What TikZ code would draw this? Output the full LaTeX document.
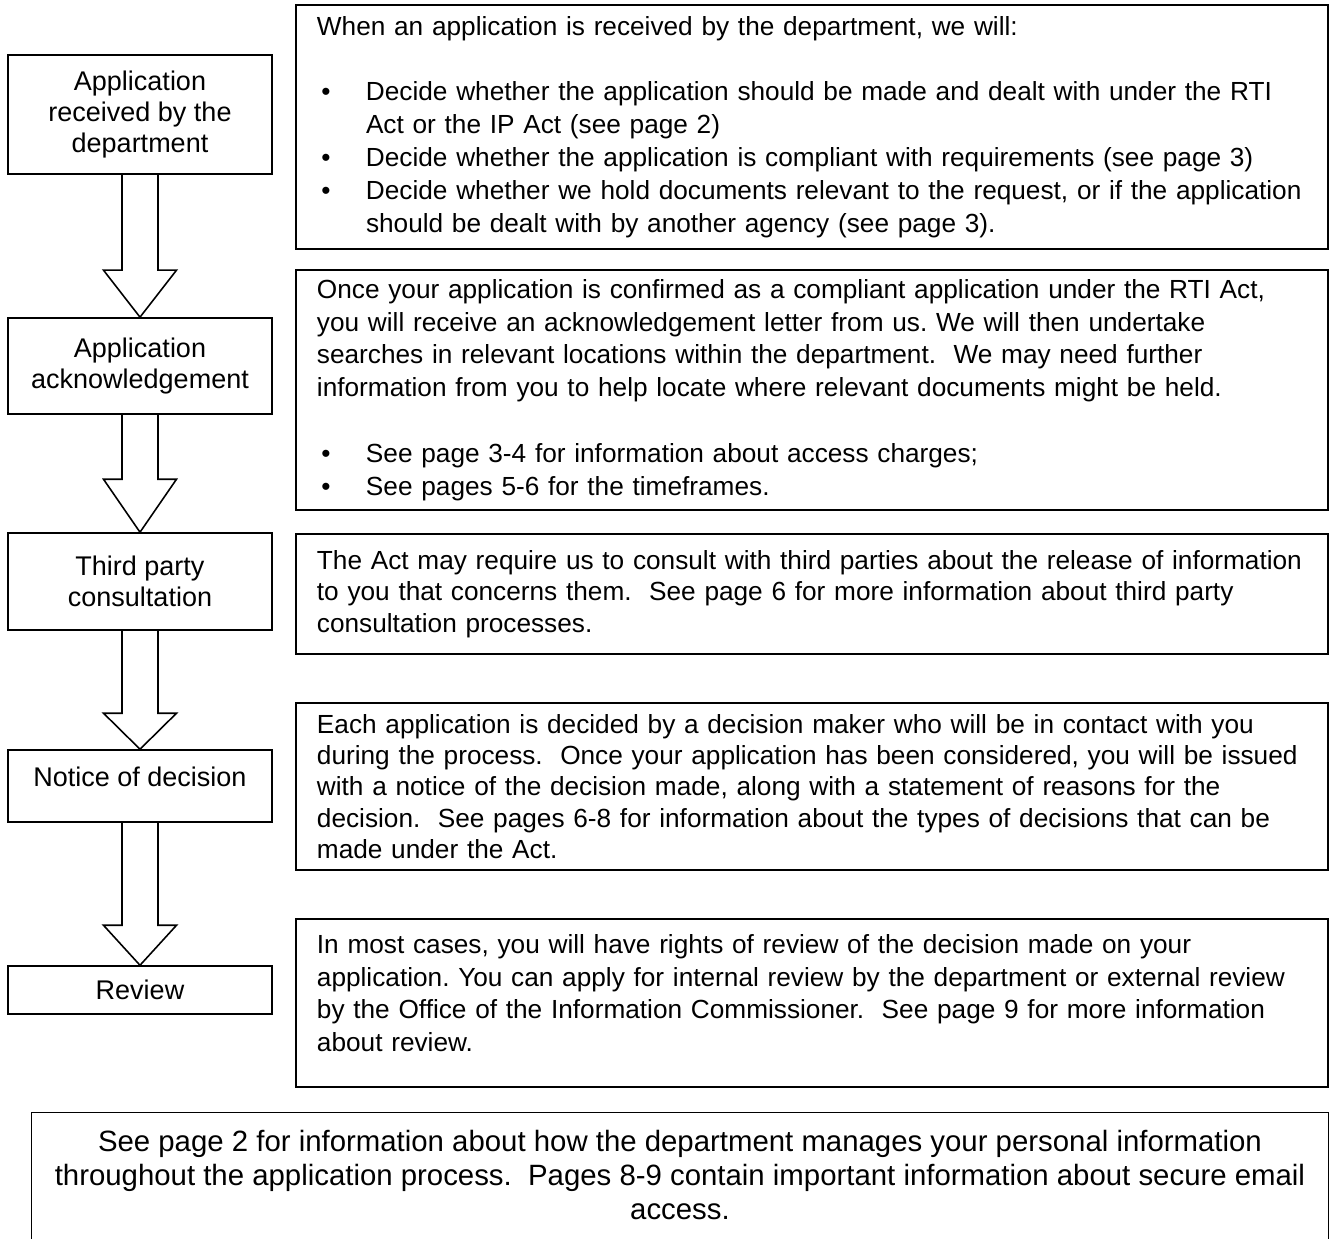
\documentclass[tikz,border=0pt]{standalone}
\usepackage{fontspec}
\setmainfont{Liberation Sans}
\usetikzlibrary{calc}
\frenchspacing
\hyphenpenalty=10000

\newcommand{\bul}{\hspace*{2pt}\makebox[19.8pt][l]{\textbullet}}
\newcommand{\bulcont}{\hspace*{21.8pt}}

\tikzset{
	stage/.style = {draw, line width=0.7pt, minimum width=117.3pt, inner sep=0pt, align=center, font=\fontsize{12}{13.8}\selectfont},
	info/.style = {draw, line width=0.7pt, minimum width=458.7pt, text width=440pt, inner xsep=9.35pt, inner ysep=0pt, align=left, font=\fontsize{11.65}{14.6}\selectfont},
	fatarrow/.style = {draw, line width=0.7pt, line join=miter}
}

\begin{document}
\begin{tikzpicture}[x=0.4444pt, y=-0.4444pt]
	\useasboundingbox (0,0) rectangle (1333,1238);
	% steps on the left
	\node[stage, minimum height=52.9pt] (recv) at (140,114.5) {Application\\received by the\\department};
	\node[stage, minimum height=42.7pt] (ack) at (140,366) {Application\\acknowledgement};
	\node[stage, minimum height=43.1pt] (third) at (140,581.5) {Third party\\consultation};
	\node[stage, minimum height=32pt, text depth=8pt] (notice) at (140,786) {Notice of decision};
	\node[stage, minimum height=21.3pt] (review) at (140,990) {Review};
	% hollow arrows between the steps
	\foreach \a/\b/\h in {recv/ack/47, ack/third/53, third/notice/36, notice/review/40}{
		\draw[fatarrow] ($(\a.south)+(-18,0)$) -- ($(\b.north)+(-18,-\h)$) -- ++(-18.5,0) -- (\b.north)
			-- ($(\b.north)+(36.5,-\h)$) -- ++(-18.5,0) -- ($(\a.south)+(18,0)$);
	}
	% explanations on the right
	\node[info, minimum height=108.4pt] (recvinfo) at (812,127) {When an application is received by the department, we will:\\[14.6pt]
		\bul Decide whether the application should be made and dealt with under the RTI\\
		\bulcont Act or the IP Act (see page 2)\\
		\bul Decide whether the application is compliant with requirements (see page 3)\\
		\bul Decide whether we hold documents relevant to the request, or if the application\\
		\bulcont should be dealt with by another agency (see page 3).};
	\node[info, minimum height=106.7pt] (ackinfo) at (812,390) {Once your application is confirmed as a compliant application under the RTI Act,\\
		you will receive an acknowledgement letter from us. We will then undertake\\
		searches in relevant locations within the department. \ We may need further\\
		information from you to help locate where relevant documents might be held.\\[14.6pt]
		\bul See page 3-4 for information about access charges;\\
		\bul See pages 5-6 for the timeframes.};
	\node[info, minimum height=53.3pt, font=\fontsize{11.65}{14}\selectfont] (thirdinfo) at (812,594) {The Act may require us to consult with third parties about the release of information\\
		to you that concerns them. \ See page 6 for more information about third party\\
		consultation processes.};
	\node[info, minimum height=74.2pt, font=\fontsize{11.65}{13.9}\selectfont] (noticeinfo) at (812,786.5) {Each application is decided by a decision maker who will be in contact with you\\
		during the process. \ Once your application has been considered, you will be issued\\
		with a notice of the decision made, along with a statement of reasons for the\\
		decision. \ See pages 6-8 for information about the types of decisions that can be\\
		made under the Act.};
	\node[info, minimum height=74.7pt] (reviewinfo) at (812,1003) {In most cases, you will have rights of review of the decision made on your\\
		application. You can apply for internal review by the department or external review\\
		by the Office of the Information Commissioner. \ See page 9 for more information\\
		about review.\\[-5.7pt]\mbox{}};
	% note at the bottom, frame runs off the page
	\node[minimum width=576pt, minimum height=55.1pt, align=center, inner sep=0pt, font=\fontsize{13.05}{14.9}\selectfont] (note) at (680,1175) {See page 2 for information about how the department manages your personal information\\
		throughout the application process. \ Pages 8-9 contain important information about secure email\\
		access.};
	\draw[line width=0.7pt] ($(note.north west)+(0,140)$) -- (note.north west) -- (note.north east) -- ($(note.north east)+(0,140)$);
\end{tikzpicture}
\end{document}
